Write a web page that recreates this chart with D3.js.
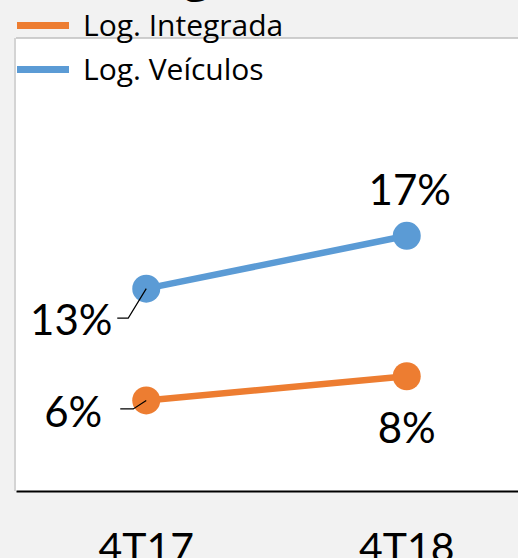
<!DOCTYPE html>
<html>
<head>
<meta charset="utf-8">
<script src="https://cdnjs.cloudflare.com/ajax/libs/d3/7.8.5/d3.min.js"></script>
<style>
  html, body { margin: 0; padding: 0; background: #f2f2f2; overflow: hidden; }
</style>
</head>
<body>
<div id="chart"></div>
<script>
// data
const categories = ["4T17", "4T18"];
const seriesNames = ["Log. Integrada", "Log. Veículos"];
const integrada = [6.0, 7.6];
const veiculos = [13.4, 16.9];
const pointLabels = [["6%", "8%"], ["13%", "17%"]];
const yDomain = [0, 30];

const width = 518;
const height = 558;
const colors = ["#ED7D31", "#5B9BD5"];
const plot = {left: 16, top: 38, right: 537, bottom: 491};

const svg = d3.select("#chart")
  .append("svg")
  .attr("width", width)
  .attr("height", height);

// title is cut off by the top edge, only a descender peeks in
svg.append("text")
  .attr("x", 92)
  .attr("y", -9)
  .attr("font-family", "Open Sans")
  .attr("font-weight", "bold")
  .attr("font-size", "46px")
  .attr("fill", "#000")
  .text("Margem");

// plot area
svg.append("rect")
  .attr("x", plot.left)
  .attr("y", plot.top)
  .attr("width", plot.right - plot.left)
  .attr("height", plot.bottom - plot.top)
  .attr("fill", "#fff")
  .attr("stroke", "none");
svg.append("line")
  .attr("x1", plot.left).attr("x2", width)
  .attr("y1", plot.top).attr("y2", plot.top)
  .attr("stroke", "#bfbfbf").attr("stroke-width", 1.5);
svg.append("line")
  .attr("x1", plot.left - 1).attr("x2", plot.left - 1)
  .attr("y1", plot.top).attr("y2", plot.bottom)
  .attr("stroke", "#d4d4d4").attr("stroke-width", 2);

const x = d3.scaleBand()
  .domain(categories)
  .range([plot.left, plot.right])
  .padding(0);
const y = d3.scaleLinear()
  .domain(yDomain)
  .range([plot.bottom, plot.top]);

// x axis: only the baseline and the category labels
const xAxis = svg.append("g")
  .attr("transform", "translate(0," + plot.bottom + ")")
  .call(d3.axisBottom(x).tickSize(0).tickPadding(42));
xAxis.select(".domain")
  .attr("stroke", "#000")
  .attr("stroke-width", 2);
xAxis.selectAll("text")
  .attr("font-family", "Lato")
  .attr("font-size", "41px")
  .attr("fill", "#000");

const series = [integrada, veiculos].map(function(vals, i) {
  return {
    name: seriesNames[i],
    color: colors[i],
    points: vals.map(function(v, j) {
      return {cat: categories[j], value: v, label: pointLabels[i][j]};
    })
  };
});

const cx = function(d) { return x(d.cat) + x.bandwidth() / 2; };
const cy = function(d) { return y(d.value); };

const line = d3.line().x(cx).y(cy);

const g = svg.append("g");

g.selectAll("path.series")
  .data(series)
  .enter().append("path")
    .attr("class", "series")
    .attr("d", function(d) { return line(d.points); })
    .attr("fill", "none")
    .attr("stroke", function(d) { return d.color; })
    .attr("stroke-width", 6.5);

series.forEach(function(s, si) {
  g.selectAll("circle.s" + si)
    .data(s.points)
    .enter().append("circle")
      .attr("class", "s" + si)
      .attr("cx", cx)
      .attr("cy", cy)
      .attr("r", 14)
      .attr("fill", s.color);
});

// leader lines for the labels that were dragged left of the first point
const leaders = [
  {s: 0, p: 0, dx: -13, dy: 8.5, tail: 13},
  {s: 1, p: 0, dx: -18, dy: 29.5, tail: 11}
];

leaders.forEach(function(l) {
  const d = series[l.s].points[l.p];
  const px = cx(d), py = cy(d);
  g.append("path")
    .attr("d", "M" + px + "," + py + "L" + (px + l.dx) + "," + (py + l.dy) + "h" + (-l.tail))
    .attr("fill", "none")
    .attr("stroke", "#000")
    .attr("stroke-width", 1.2);
});

// data labels, offsets relative to each point
const labelOffsets = [
  [{dx: -73, dy: 27}, {dx: 0, dy: 67}],
  [{dx: -75, dy: 46}, {dx: 3, dy: -31}]
];

series.forEach(function(s, si) {
  g.selectAll("text.l" + si)
    .data(s.points)
    .enter().append("text")
      .attr("class", "l" + si)
      .attr("x", function(d, j) { return cx(d) + labelOffsets[si][j].dx; })
      .attr("y", function(d, j) { return cy(d) + labelOffsets[si][j].dy; })
      .attr("text-anchor", "middle")
      .attr("font-family", "Lato")
      .attr("font-size", "42px")
      .attr("fill", "#000")
      .text(function(d) { return d.label; });
});

// legend, top left, sitting over the plot border
const legend = svg.append("g")
  .selectAll("g")
  .data(series)
  .enter().append("g")
    .attr("transform", function(d, i) { return "translate(17," + (25.5 + i * 44) + ")"; });
legend.append("line")
  .attr("x1", 0).attr("x2", 52)
  .attr("stroke", function(d) { return d.color; })
  .attr("stroke-width", 7);
legend.append("text")
  .attr("x", 66)
  .attr("y", 10.5)
  .attr("font-family", "Open Sans")
  .attr("font-size", "30px")
  .attr("fill", "#000")
  .text(function(d) { return d.name; });
</script>
</body>
</html>
